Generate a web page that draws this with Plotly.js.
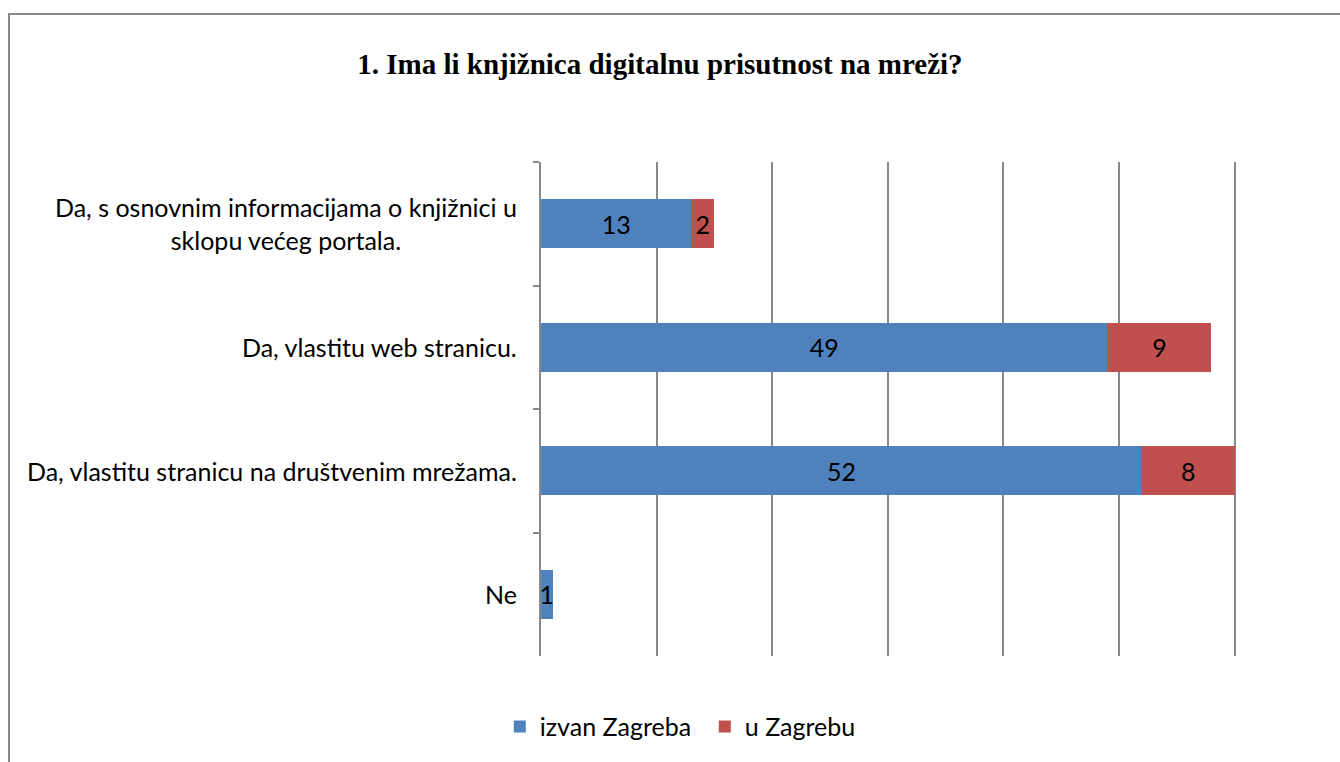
<!DOCTYPE html>
<html>
<head>
<meta charset="utf-8">
<script src="https://cdn.plot.ly/plotly-3.0.1.min.js"></script>
<style>
  html, body { margin: 0; padding: 0; background: #fff; overflow: hidden; }
  #chart { width: 1340px; height: 762px; }
  #frame { position: absolute; left: 8px; top: 13px; width: 1400px; height: 800px;
           border: 2px solid #888; pointer-events: none; box-sizing: border-box; }
</style>
</head>
<body>
<div id="chart"></div>
<div id="frame"></div>
<script>
const categories = [
  "Da, s osnovnim informacijama o knjižnici u<br>sklopu većeg portala.",
  "Da, vlastitu web stranicu.",
  "Da, vlastitu stranicu na društvenim mrežama.",
  "Ne"
];
const seriesNames = ["izvan Zagreba", "u Zagrebu"];
const izvanZagreba = [13, 49, 52, 1];
const uZagrebu = [2, 9, 8, null];
const titleText = "1. Ima li knjižnica digitalnu prisutnost na mreži?";

const labelFont = "Lato, 'Open Sans', sans-serif";
const fs = 25;

const traces = [
  {
    type: "bar", orientation: "h", name: seriesNames[0],
    y: categories, x: izvanZagreba, text: izvanZagreba.map(v => v == null ? "" : String(v)),
    textposition: "inside", insidetextanchor: "middle", constraintext: "none",
    textfont: { family: labelFont, size: fs, color: "#000" },
    marker: { color: "#4F81BD" }, hoverinfo: "none"
  },
  {
    type: "bar", orientation: "h", name: seriesNames[1],
    y: categories, x: uZagrebu, text: uZagrebu.map(v => v == null ? "" : String(v)),
    textposition: "inside", insidetextanchor: "middle", constraintext: "none",
    textfont: { family: labelFont, size: fs, color: "#000" },
    marker: { color: "#C0504D" }, hoverinfo: "none"
  }
];

const annotations = categories.map(c => ({
  xref: "paper", yref: "y", x: -0.032, y: c, text: c,
  xanchor: "right", yanchor: "middle", align: "center", showarrow: false,
  font: { family: labelFont, size: fs, color: "#000" }
}));

const layout = {
  width: 1340, height: 762,
  margin: { l: 541, r: 101.5, t: 162, b: 101 },
  paper_bgcolor: "#fff", plot_bgcolor: "#fff",
  barmode: "stack", bargap: 0.6,
  title: {
    text: "<b>" + titleText + "</b>",
    font: { family: "'Liberation Serif', 'Times New Roman', serif", size: 29, color: "#000" },
    xref: "container", x: 0.4925, xanchor: "center",
    yref: "container", y: 1 - 64 / 762, yanchor: "middle"
  },
  xaxis: {
    range: [0, 60.3], dtick: 10, tick0: 0, showticklabels: false,
    showgrid: true, gridcolor: "#888", gridwidth: 2, zeroline: false, showline: false, ticks: ""
  },
  yaxis: {
    autorange: "reversed", showticklabels: false,
    showline: true, linecolor: "#888", linewidth: 2,
    ticks: "outside", tickson: "boundaries", ticklen: 6, tickcolor: "#888", tickwidth: 2,
    showgrid: false, zeroline: false
  },
  showlegend: true,
  legend: {
    orientation: "h", x: 0.235, xanchor: "center", y: -0.143, yanchor: "middle",
    font: { family: labelFont, size: fs, color: "#000" },
    traceorder: "normal", itemwidth: 30,
    entrywidth: 160, entrywidthmode: "pixels"
  },
  annotations: annotations
};

Plotly.newPlot("chart", traces, layout, { staticPlot: true, displayModeBar: false });
</script>
</body>
</html>
